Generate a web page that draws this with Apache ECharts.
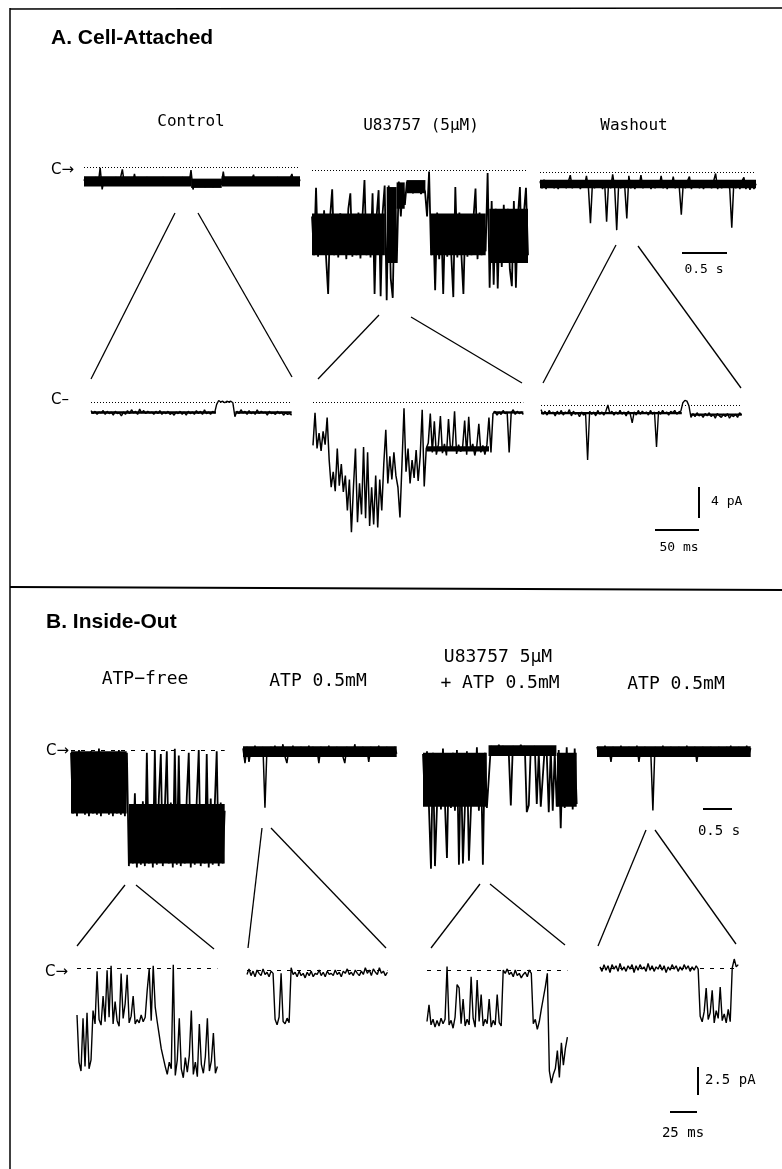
<!DOCTYPE html>
<html><head><meta charset="utf-8">
<script src="https://cdn.jsdelivr.net/npm/echarts@6.0.0/dist/echarts.min.js"></script>
<style>html,body{margin:0;padding:0;background:#fff}#c{width:782px;height:1169px}</style>
</head><body><div id="c"></div>
<script>
// ================= DATA (current in pA) =================
// Panel A, top row (2.4 s sweeps)
const aTopControl = [-1.6,-2.2,-1.4,-2.4,-1.5,-2.1,-1.3,-2.3,-0.1,-2.9,
-1.5,-2.2,-1.4,-2.3,-1.6,-2.1,-1.3,-2.4,-1.5,-0.3,
-2.2,-1.4,-2.3,-1.5,-2.2,-0.9,-2.3,-1.4,-2.1,-1.6,
-2.4,-1.3,-2.2,-1.5,-2.3,-1.4,-2.2,-1.6,-2.4,-1.3,
-2.1,-1.5,-2.3,-1.4,-2.2,-1.6,-2.4,-1.5,-2.2,-1.3,
-2.3,-1.6,-2.2,-0.4,-2.9,-1.7,-2.5,-1.8,-2.4,-1.6,
-2.6,-1.7,-2.4,-1.8,-2.6,-1.6,-2.5,-1.7,-2.3,-0.6,
-2.4,-1.6,-2.3,-1.5,-2.2,-1.4,-2.3,-1.6,-2.1,-1.5,
-2.3,-1.4,-2.2,-1.6,-1.0,-2.3,-1.5,-2.2,-1.4,-2.3,
-1.6,-2.1,-1.4,-2.3,-1.5,-2.2,-1.3,-2.4,-1.6,-2.1,
-1.4,-2.3,-1.5,-0.9,-2.2,-1.4,-2.3,-1.6];
const aTopDrug = [-6.0,-11.0,-2.3,-11.2,-5.8,-10.8,-5.2,-11.4,-16.0,-6.0,
-2.5,-11.0,-6.5,-11.3,-5.6,-10.9,-6.2,-11.5,-5.0,-3.0,
-11.2,-6.0,-11.0,-5.5,-11.4,-6.1,-1.3,-11.0,-5.8,-11.3,
-3.0,-16.0,-6.0,-2.6,-16.3,-5.5,-2.0,
-16.8,-2.0,-14.0,-16.5,-3.0,-12.0,-1.5,-6.0,-1.8,-4.5,
-1.5,-2.8,-1.8,-3.0,-2.0,-2.9,-1.6,-3.1,-2.2,-2.8,
-6.0,-0.2,
-11.0,-6.0,-15.5,-5.5,-11.5,-6.5,-16.0,-5.8,-11.2,-6.3,
-11.0,-16.4,-2.2,-11.3,-5.5,-10.9,-16.0,-6.0,-11.2,-5.7,
-11.0,-6.2,-2.4,-11.5,-5.5,-11.0,-5.8,-10.5,
-0.4,
-15.2,-4.0,-14.8,-5.0,-15.3,-6.0,-12.5,-4.5,-12.0,-5.0,
-12.8,-15.0,-4.0,-15.2,-6.0,-2.2,-12.0,-5.5,-2.3,-11.0];
const aTopWash = [-1.2,-2.1,-1.0,-2.2,-1.3,-2.0,-1.1,-2.1,-1.4,-2.2,
-1.2,-2.0,-1.1,-2.1,-1.3,-0.4,-2.1,-1.2,-2.0,-1.3,
-2.2,-1.1,-2.0,-0.5,-2.1,-6.6,-1.3,-2.1,-1.2,-2.0,
-1.1,-2.2,-1.3,-6.4,-1.2,-2.1,-0.3,-2.0,-7.5,-1.3,
-2.1,-1.2,-2.0,-6.0,-0.5,-2.1,-1.3,-2.2,-1.1,-2.0,
-0.4,-2.1,-1.2,-2.0,-1.4,-2.2,-1.1,-2.1,-1.3,-2.0,
-0.5,-2.1,-1.2,-2.2,-1.3,-2.0,-0.6,-2.1,-1.2,-2.0,
-5.5,-1.3,-2.1,-1.2,-0.6,-2.2,-1.3,-2.0,-1.1,-2.1,
-1.3,-2.2,-1.2,-2.0,-1.4,-2.1,-1.2,-0.2,-2.2,-1.3,
-2.1,-1.2,-2.0,-1.3,-2.2,-7.2,-1.4,-2.1,-1.3,-2.2,
-1.2,-0.7,-2.2,-1.3,-2.3,-1.4,-2.2,-1.5];
// Panel A, bottom row (ms sweeps)
const aBotControl = [-1.1,-1.5,-1.2,-1.6,-1.3,-1.4,-1.1,-1.6,-1.2,-1.5,
-1.3,-1.7,-1.2,-1.5,-1.4,-1.8,-1.3,-1.6,-1.1,-1.5,
-1.0,-1.4,-1.2,-1.6,-0.9,-1.4,-1.1,-1.5,-1.2,-1.4,
-1.3,-1.6,-1.2,-1.5,-1.1,-1.6,-1.3,-1.5,-1.2,-1.6,
-1.4,-1.7,-1.3,-1.5,-1.2,-1.6,-1.3,-1.7,-1.2,-1.5,
-1.3,-1.6,-1.1,-1.5,-1.2,-1.6,-1.0,-1.5,-1.3,-1.6,
-1.2,-1.4,-0.3,0.2,0.0,0.1,-0.1,0.1,0.0,0.1,
-0.1,-1.9,-1.2,-1.5,-1.0,-1.4,-1.2,-1.6,-1.1,-1.5,
-1.3,-1.6,-1.0,-1.5,-1.2,-1.4,-1.3,-1.7,-1.2,-1.5,
-1.4,-1.6,-1.2,-1.5,-1.3,-1.7,-1.4,-1.6,-1.5,-1.7];
const aBotDrug = [-5.6,-1.4,-6.0,-4.0,-6.3,-3.8,-5.5,-2.0,
-7.5,-11.0,-9.0,-11.5,-6.0,-10.8,-8.0,-11.6,-9.5,
-14.0,-10.0,-16.8,-11.0,-6.0,-15.5,-10.5,-14.5,-5.8,-15.0,-6.5,-16.0,-11.0,-15.8,-9.5,-16.2,-10.0,-14.0,
-8.0,-3.6,-10.5,-7.0,-10.0,-6.5,-9.5,
-11.0,-14.9,-8.0,
-0.8,-9.0,-6.0,-10.5,-7.5,-9.8,-6.2,-10.2,-7.0,-1.0,-10.9,
-6.0,-5.3,-1.5,-6.5,-2.5,-6.8,-5.5,-1.8,-6.6,-5.4,-6.9,-2.2,-6.2,-5.6,-1.2,-6.7,
-5.5,-6.4,-5.8,-2.4,-6.8,-1.9,-6.3,-5.4,-6.9,-5.7,-2.8,-6.5,-5.6,-6.8,-5.5,-2.0,
-6.5,-1.5,-1.2,-1.7,-1.3,-1.6,-1.1,-1.5,-1.3,-6.5,-1.4,-1.0,-1.6,-1.2,-1.5,-1.3,-1.6];
const aBotWash = [-0.6,-1.2,-0.8,-1.3,-0.7,-1.1,-0.9,-1.4,-0.8,-1.2,
-0.7,-1.3,-0.9,-1.1,-0.6,-1.4,-0.8,-1.2,-1.0,-1.5,
-0.9,-1.3,-1.1,-7.1,-0.8,-1.2,-0.9,-1.4,-0.7,-1.2,
-0.9,-1.3,-0.8,0.0,-1.1,-0.8,-1.3,-0.9,-1.2,-0.7,
-1.2,-0.9,-1.4,-0.8,-1.1,-2.3,-0.9,-1.3,-0.7,-1.2,
-0.8,-1.1,-0.9,-1.3,-0.7,-1.2,-0.9,-5.4,-0.8,-1.2,
-0.7,-1.1,-0.9,-1.3,-0.8,-1.0,-0.7,-1.2,-0.9,-0.8,
0.3,0.6,0.5,-0.1,-1.6,-1.1,-1.5,-1.0,-1.4,-1.2,
-1.6,-1.1,-1.4,-1.0,-1.5,-1.2,-1.7,-1.1,-1.4,-1.6,
-1.2,-1.5,-1.1,-1.7,-1.3,-1.5,-1.2,-1.6,-1.0,-1.3];
// Panel B, top row (s sweeps)
const bTopFree = [-0.2,-4.7,-0.5,-4.9,0.0,-4.6,-0.8,-4.8,-0.3,-4.9,
-0.1,-4.7,-0.6,-4.8,0.1,-4.9,-0.4,-4.6,-0.2,-4.8,
-1.0,-4.9,-0.3,-4.7,0.0,-4.8,-0.5,-4.9,-0.2,
-8.6,-4.0,-8.4,-3.2,-8.7,-4.5,-8.5,-3.8,-8.6,-0.2,
-8.4,-4.2,-8.7,0.0,-8.5,-3.6,-0.3,-8.6,-4.4,-0.1,
-8.4,-3.9,-8.7,0.1,-8.5,-0.4,-8.6,-4.1,-8.4,-3.5,
-0.2,-8.7,-4.3,-8.5,-3.7,0.0,-8.6,-4.0,-8.4,-0.3,
-8.7,-3.6,-8.5,-4.2,-0.1,-8.6,-3.9,-8.4,-4.5];
const bTopAtp1 = [0.2,-0.9,0.3,-0.8,0.1,-0.4,0.4,-0.3,0.2,-0.4,
0.3,-4.2,0.2,-0.4,0.3,-0.3,0.4,-0.4,0.1,-0.3,
0.5,-0.4,-0.9,0.2,-0.3,0.4,-0.4,0.2,-0.3,0.3,
-0.4,0.2,-0.3,0.4,-0.4,0.3,-0.3,0.2,-0.9,0.3,
-0.4,0.2,-0.3,0.4,-0.3,0.2,-0.4,0.3,-0.3,0.2,
-0.4,-0.9,0.3,-0.3,0.2,-0.4,0.5,-0.3,0.2,-0.4,
0.3,-0.3,0.2,-0.8,0.3,-0.4,0.2,-0.3,0.4,-0.4,
0.2,-0.3,0.3,-0.4,0.2,-0.3,0.3,-0.2];
const bTopDrug = [-0.3,-3.8,-0.1,-4.3,-8.8,-0.2,-8.6,-4.2,-0.4,-4.4,
0.1,-4.0,-8.0,-0.3,-4.3,-0.2,-4.5,0.0,-8.5,-0.5,
-8.4,-4.2,-0.1,-8.2,-4.4,-0.3,-4.1,0.2,-4.5,-0.4,
-8.5,-0.2,-4.3,-2.0,0.3,-0.3,0.2,-0.4,0.4,-0.2,
0.3,-0.4,0.2,-0.3,-4.1,0.3,-0.4,0.2,-0.3,0.4,
-0.2,0.3,-4.6,-4.1,0.2,-0.3,0.3,-4.0,-0.2,-4.2,
-4.3,0.2,-0.3,-4.6,0.1,-4.5,-0.2,-4.2,0.0,-5.8,
-0.3,-4.3,0.2,-4.1,-0.4,-4.4,0.1,-4.0];
const bTopAtp2 = [0.3,-0.4,0.2,-0.3,0.4,-0.3,0.2,-0.8,0.3,-0.4,
0.2,-0.3,0.4,-0.4,0.1,-0.3,0.3,-0.4,0.2,-0.3,
0.4,-0.8,0.2,-0.3,0.3,-0.4,0.2,-0.3,-4.4,0.3,
-0.4,0.2,-0.3,0.4,-0.3,0.2,-0.4,0.3,-0.3,0.2,
-0.4,0.3,-0.3,0.2,-0.4,0.4,-0.3,0.2,-0.4,0.3,
-0.8,0.2,-0.4,0.3,-0.3,0.2,-0.4,0.3,-0.3,0.2,
-0.4,0.3,-0.3,0.2,-0.4,0.3,-0.3,0.4,-0.4,0.2,
-0.3,0.3,-0.4,0.2,-0.3,0.4,-0.3,0.2];
// Panel B, bottom row (ms sweeps)
const bBotFree = [-4.2,-8.4,-9.2,-4.5,-8.8,-4.0,-9.0,-8.2,
-3.8,-5.0,-0.3,-4.6,-5.1,-2.5,-4.8,-0.2,-4.4,0.2,-5.0,-3.0,
-4.7,-5.2,-0.5,-4.5,-3.2,-0.6,-4.9,-4.3,-2.5,-5.0,
-4.6,-4.9,-4.2,-4.8,-4.4,-2.0,-0.1,-4.7,0.2,-3.5,
-4.8,-6.0,-7.2,-8.0,-8.8,-9.5,-8.4,-9.0,0.3,
-9.6,-8.2,-4.5,-9.0,-9.8,-8.0,-9.3,-7.8,-3.8,-9.5,-8.4,
-9.7,-5.0,-8.6,-9.4,-7.9,-4.5,-9.2,-8.3,-5.8,-9.4,-8.8];
const bBotAtp1 = [-0.4,0.1,-0.5,-0.1,-0.6,0.0,-0.3,-0.5,0.1,-0.4,
-0.2,-0.6,-0.1,-0.3,-4.4,-4.9,-4.2,-0.3,-4.6,-4.8,
-4.3,-4.7,0.2,-0.4,-0.2,-0.6,-0.1,-0.5,-0.3,-0.7,
-0.2,-0.5,-0.1,-0.6,-0.3,-0.4,0.0,-0.5,-0.2,-0.6,
-0.1,-0.4,-0.3,-0.5,0.0,-0.4,-0.2,-0.6,-0.1,-0.3,
0.1,-0.4,-0.2,-0.5,0.0,-0.3,-0.5,-0.1,-0.4,0.2,
-0.3,0.0,-0.5,0.1,-0.2,-0.4,0.2,-0.3,-0.1,-0.5,
-0.2];
const bBotDrug = [-4.6,-3.1,-4.9,-4.4,-5.1,-4.5,-5.0,-4.3,-4.8,-4.4,
0.3,-4.9,-4.5,-5.2,-4.2,-1.3,-1.6,-4.8,-2.6,-5.0,
-4.4,-4.9,-0.6,-4.3,-5.1,-0.9,-4.6,-2.2,-5.0,-4.4,
-4.8,-2.6,-5.1,-4.5,-4.9,-2.2,-4.7,-5.0,0.0,
-0.3,0.1,-0.4,-0.2,-0.6,0.0,-0.5,-0.3,-0.7,-0.4,-0.2,-0.6,0.0,-0.3,
-4.8,-4.4,-5.3,-4.6,-3.5,-2.5,-1.5,-0.3,-9.0,-10.1,-9.3,-8.8,
-7.2,-9.6,-6.5,-8.5,-7.0,-6.0];
const bBotAtp2 = [0.1,-0.3,0.3,-0.2,0.2,-0.4,0.3,-0.1,0.2,-0.3,
0.4,-0.2,0.1,-0.3,0.2,-0.1,0.3,-0.4,0.2,-0.2,
0.3,-0.1,0.1,-0.3,0.4,-0.2,0.2,-0.3,0.1,-0.1,
0.3,-0.2,0.2,-0.4,0.1,-0.2,0.3,-0.1,0.2,-0.3,
0.1,-0.2,0.3,-0.1,0.2,-0.3,0.1,-0.2,0.2,-0.1,
-4.3,-4.8,-3.9,-1.8,-4.6,-4.0,-2.0,-4.9,-3.8,-4.5,
-1.7,-4.7,-4.1,-4.9,-3.7,-4.8,
0.0,0.8,0.1,0.3];

// Dense noise envelopes (fast flicker that prints as solid black): [tStart, tEnd, low pA, high pA]
const aTopControlBand = [[0,1.19,-2.5,-1.2],[1.19,1.53,-2.7,-1.5],[1.53,2.4,-2.5,-1.2]];
const aTopDrugBand = [[0,0.81,-11,-5.6],[0.83,0.94,-12,-2.2],[0.94,1.03,-5,-1.6],[1.05,1.26,-3.0,-1.3],[1.32,1.93,-11,-5.6],[1.97,2.4,-12,-5.0]];
const aTopWashBand = [[0,2.4,-2.1,-1.0]];
const aBotControlBand = [[0,142,-1.5,-1.2],[164,228,-1.5,-1.2]];
const aBotDrugBand = [[129,200,-6.4,-5.7],[205,239,-1.5,-1.2]];
const aBotWashBand = [[0,160,-1.2,-0.9],[170,228,-1.4,-1.1]];
const bTopFreeBand = [[0,0.96,-4.7,-0.1],[1.0,2.65,-8.4,-4.0]];
const bTopAtp1Band = [[0,2.65,-0.45,0.35]];
const bTopDrugBand = [[0,1.10,-4.2,-0.2],[1.13,2.3,-0.45,0.35],[2.31,2.65,-4.2,-0.2]];
const bTopAtp2Band = [[0,2.65,-0.45,0.35]];

// sweep durations (s for top rows, ms for bottom rows)
const sweepDurations = {aTopControl:2.4, aTopDrug:2.4, aTopWash:2.4,
  aBotControl:228, aBotDrug:239, aBotWash:228,
  bTopFree:2.65, bTopAtp1:2.65, bTopDrug:2.65, bTopAtp2:2.65,
  bBotFree:130, bBotAtp1:130, bBotDrug:130, bBotAtp2:128};
const traceData = {aTopControl, aTopDrug, aTopWash, aBotControl, aBotDrug, aBotWash,
  bTopFree, bTopAtp1, bTopDrug, bTopAtp2, bBotFree, bBotAtp1, bBotDrug, bBotAtp2};
const bandData = {aTopControl: aTopControlBand, aTopDrug: aTopDrugBand, aTopWash: aTopWashBand,
  aBotControl: aBotControlBand, aBotDrug: aBotDrugBand, aBotWash: aBotWashBand,
  bTopFree: bTopFreeBand, bTopAtp1: bTopAtp1Band, bTopDrug: bTopDrugBand, bTopAtp2: bTopAtp2Band};

// scale bar values
const scaleBarValues = {aTopTime:0.5, aBotAmp:4, aBotTime:50, bTopTime:0.5, bBotAmp:2.5, bBotTime:25};
const scaleBarUnits = {aTopTime:'s', aBotAmp:'pA', aBotTime:'ms', bTopTime:'s', bBotAmp:'pA', bBotTime:'ms'};

// text
const panelTitles = ['A. Cell-Attached', 'B. Inside-Out'];
const conditionLabelsA = ['Control', 'U83757 (5μM)', 'Washout'];
const conditionLabelsB = ['ATP−free', 'ATP 0.5mM', 'U83757 5μM', '+ ATP 0.5mM', 'ATP 0.5mM'];

// ================= LAYOUT =================
const rows = {
  aTop: {xPx: 90, yPx: 7.75, yMin: -18, yMax: 2},
  aBot: {xPx: 0.88, yPx: 7.75, yMin: -18, yMax: 2},
  bTop: {xPx: 58, yPx: 13.5, yMin: -10, yMax: 2},
  bBot: {xPx: 1.08, yPx: 11.2, yMin: -11, yMax: 2}
};
const traceLayout = [
  {key:'aTopControl', row:'aTop', left:84, y0:167, base:'dot', w:1.5},
  {key:'aTopDrug', row:'aTop', left:312, y0:170, base:'dot', w:1.8},
  {key:'aTopWash', row:'aTop', left:540, y0:172, base:'dot', w:1.5},
  {key:'aBotControl', row:'aBot', left:91, y0:402, base:'dot', w:1.4},
  {key:'aBotDrug', row:'aBot', left:313, y0:402, base:'dot', w:1.5},
  {key:'aBotWash', row:'aBot', left:541, y0:405, base:'dot', w:1.4},
  {key:'bTopFree', row:'bTop', left:71, y0:750, base:'dash', w:1.8},
  {key:'bTopAtp1', row:'bTop', left:243, y0:751, base:null, w:1.5},
  {key:'bTopDrug', row:'bTop', left:423, y0:750, base:null, w:1.8},
  {key:'bTopAtp2', row:'bTop', left:597, y0:751, base:null, w:1.5},
  {key:'bBotFree', row:'bBot', left:77, y0:968, base:'dash', w:1.4},
  {key:'bBotAtp1', row:'bBot', left:247, y0:970, base:'dash', w:1.4},
  {key:'bBotDrug', row:'bBot', left:427, y0:970, base:'dash', w:1.4},
  {key:'bBotAtp2', row:'bBot', left:600, y0:968, base:'dash', w:1.4}
];

const grids = [], xAxes = [], yAxes = [], series = [];
function addPanel(left, y0, xPx, yPx, xMax, yMin, yMax) {
  const idx = grids.length;
  grids.push({left: left, top: y0 - yMax * yPx, width: Math.max(1, xMax * xPx), height: (yMax - yMin) * yPx,
    containLabel: false, outerBoundsMode: 'none', show: false});
  xAxes.push({type: 'value', gridIndex: idx, min: 0, max: xMax, show: false});
  yAxes.push({type: 'value', gridIndex: idx, min: yMin, max: yMax, show: false});
  return idx;
}

function renderBand(params, api) {
  const p0 = api.coord([api.value(0), api.value(3)]);
  const p1 = api.coord([api.value(1), api.value(2)]);
  return {type: 'rect', shape: {x: p0[0], y: p0[1], width: Math.max(0.5, p1[0] - p0[0]), height: p1[1] - p0[1]},
    style: {fill: '#000'}};
}

traceLayout.forEach(t => {
  const r = rows[t.row];
  const vals = traceData[t.key];
  const dur = sweepDurations[t.key];
  const idx = addPanel(t.left, t.y0, r.xPx, r.yPx, dur, r.yMin, r.yMax);
  if (bandData[t.key]) {
    series.push({type: 'custom', xAxisIndex: idx, yAxisIndex: idx, silent: true, animation: false, clip: false,
      renderItem: renderBand, encode: {x: [0, 1], y: [2, 3]}, data: bandData[t.key]});
  }
  const s = {
    type: 'line', xAxisIndex: idx, yAxisIndex: idx, silent: true, animation: false,
    clip: false, showSymbol: false, symbol: 'none',
    lineStyle: {color: '#000', width: t.w, join: 'bevel'},
    data: vals.map((v, i) => [i * dur / (vals.length - 1), v])
  };
  if (t.base) {
    s.markLine = {silent: true, symbol: ['none', 'none'], label: {show: false}, animation: false,
      lineStyle: {color: '#000', width: 1, type: t.base === 'dot' ? [1, 2] : [4, 6]},
      data: [{yAxis: 0}]};
  }
  series.push(s);
});

// scale bars (through their own axes)
function hBar(key, row, left, y) {
  const r = rows[row], v = scaleBarValues[key];
  const idx = addPanel(left, y, r.xPx, r.yPx, v, -1, 1);
  series.push({type:'line', xAxisIndex: idx, yAxisIndex: idx, silent:true, animation:false, clip:false,
    showSymbol:false, symbol:'none', lineStyle:{color:'#000', width:2}, data:[[0,0],[v,0]]});
}
function vBar(key, row, left, yBottom) {
  const r = rows[row], v = scaleBarValues[key];
  const idx = addPanel(left, yBottom, r.xPx, r.yPx, 1, 0, v);
  series.push({type:'line', xAxisIndex: idx, yAxisIndex: idx, silent:true, animation:false, clip:false,
    showSymbol:false, symbol:'none', lineStyle:{color:'#000', width:2}, data:[[0,0],[0,v]]});
}
hBar('aTopTime', 'aTop', 682, 253);
vBar('aBotAmp', 'aBot', 699, 518);
hBar('aBotTime', 'aBot', 655, 530);
hBar('bTopTime', 'bTop', 703, 809);
vBar('bBotAmp', 'bBot', 698, 1095);
hBar('bBotTime', 'bBot', 670, 1112);

function sbLabel(key) { return scaleBarValues[key] + ' ' + scaleBarUnits[key]; }

// graphic decorations
const G = [];
function line(x1, y1, x2, y2, w) {
  G.push({type:'line', silent:true, shape:{x1, y1, x2, y2}, style:{stroke:'#000', lineWidth: w || 1.3}});
}
function text(str, x, y, font, align) {
  G.push({type:'text', silent:true, x: x, y: y,
    style:{text: str, font: font, fill:'#000', align: align || 'left', verticalAlign:'middle',
      textAlign: align || 'left', textVerticalAlign: 'middle'}});
}
// frame
line(10, 9, 782, 8, 1.5);
line(10, 8, 10, 1169, 1.5);
line(10, 587, 782, 590, 2);
// fan (expansion) lines
line(175, 213, 91, 379); line(198, 213, 292, 377);
line(379, 315, 318, 379); line(411, 317, 522, 383);
line(616, 245, 543, 383); line(638, 246, 741, 388);
line(125, 885, 77, 946); line(136, 885, 214, 949);
line(262, 828, 248, 948); line(271, 828, 386, 948);
line(480, 884, 431, 948); line(490, 884, 565, 945);
line(646, 830, 598, 946); line(655, 830, 736, 944);

const titleFont = 'bold 21px "Liberation Sans", Arial, sans-serif';
const labA = '16px "DejaVu Sans Mono", monospace';
const labB = '18px "DejaVu Sans Mono", monospace';
const sbFontA = '13px "DejaVu Sans Mono", monospace';
const sbFontB = '14px "DejaVu Sans Mono", monospace';
const cFont = '15px "DejaVu Sans", sans-serif';

text(panelTitles[0], 51, 38, titleFont);
text(panelTitles[1], 46, 622, titleFont);
text(conditionLabelsA[0], 191, 122, labA, 'center');
text(conditionLabelsA[1], 421, 126, labA, 'center');
text(conditionLabelsA[2], 634, 126, labA, 'center');
text(conditionLabelsB[0], 145, 679, labB, 'center');
text(conditionLabelsB[1], 318, 681, labB, 'center');
text(conditionLabelsB[2], 498, 657, labB, 'center');
text(conditionLabelsB[3], 500, 683, labB, 'center');
text(conditionLabelsB[4], 676, 684, labB, 'center');
text('C→', 51, 170, cFont);
text('C–', 51, 400, cFont);
text('C→', 46, 751, cFont);
text('C→', 45, 972, cFont);
text(sbLabel('aTopTime'), 704, 270, sbFontA, 'center');
text(sbLabel('aBotAmp'), 711, 502, sbFontA);
text(sbLabel('aBotTime'), 679, 548, sbFontA, 'center');
text(sbLabel('bTopTime'), 719, 831, sbFontB, 'center');
text(sbLabel('bBotAmp'), 705, 1080, sbFontB);
text(sbLabel('bBotTime'), 683, 1133, sbFontB, 'center');

const chart = echarts.init(document.getElementById('c'), null, {renderer: 'canvas', width: 782, height: 1169});
chart.setOption({
  animation: false,
  backgroundColor: '#fff',
  grid: grids, xAxis: xAxes, yAxis: yAxes, series: series,
  graphic: {elements: G}
});
</script></body></html>
